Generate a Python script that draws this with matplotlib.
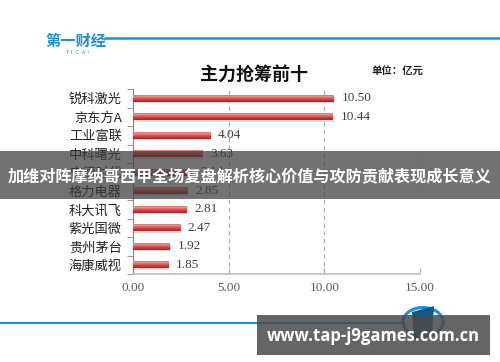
import matplotlib
matplotlib.use("Agg")
import matplotlib.pyplot as plt
import numpy as np
from matplotlib.patches import Rectangle, Circle, Polygon
from matplotlib.colors import LinearSegmentedColormap

categories = ["锐科激光", "京东方A", "工业富联", "中科曙光", "宁德时代",
              "格力电器", "科大讯飞", "紫光国微", "贵州茅台", "海康威视"]
values = [10.50, 10.44, 4.04, 3.63, 3.14, 2.85, 2.81, 2.47, 1.92, 1.85]
value_labels = ["10.50", "10.44", "4.04", "3.63", "3.14", "2.85", "2.81", "2.47", "1.92", "1.85"]
xticks = [0, 5, 10, 15]
xtick_labels = ["0.00", "5.00", "10.00", "15.00"]
title = "主力抢筹前十"
unit = "单位：亿元"
banner = "加维对阵摩纳哥西甲全场复盘解析核心价值与攻防贡献表现成长意义"
watermark = "www.tap-j9games.com.cn"

cjk = ["Noto Sans CJK SC", "DejaVu Sans"]
serif = ["Liberation Serif", "DejaVu Serif"]

W, H = 500, 362
fig = plt.figure(figsize=(W / 100, H / 100), dpi=100)
fig.patch.set_facecolor("white")

def fx(px):
    return px / W

def fy(py):
    return 1 - py / H

ax = fig.add_axes([fx(133), fy(274), fx(420) - fx(133), fy(89) - fy(274)])
n = len(categories)
y = np.arange(n)
bars = ax.barh(y, values, height=0.38, color="#d94040", zorder=3)

cmap = LinearSegmentedColormap.from_list(
    "bar", ["#b52a2a", "#f3a3a3", "#e35a5a", "#cf3a3a", "#9e1f1f"])
grad = np.linspace(0, 1, 64).reshape(-1, 1)
for b in bars:
    x0, y0 = b.get_x(), b.get_y()
    w, h = b.get_width(), b.get_height()
    ax.add_patch(Rectangle((x0 + 0.05, y0 + 0.08), w, h, facecolor="#bbbbbb",
                           edgecolor="none", alpha=0.5, zorder=2))
    im = ax.imshow(grad, cmap=cmap, aspect="auto",
                   extent=(x0, x0 + w, y0 + h, y0), zorder=4, interpolation="bicubic")
    im.set_clip_path(b)
ax.set_xlim(0, 15)
ax.set_ylim(n - 0.5, -0.5)

for yi, v, lab in zip(y, values, value_labels):
    ax.text(v + 0.4, yi, lab, va="center", ha="left", fontsize=9.5,
            family=serif, color="#404040", zorder=5)

ax.set_yticks(y)
ax.set_yticklabels(categories, family=cjk, fontsize=9.5, color="#222222")
ax.set_yticks(np.arange(-0.5, n, 1), minor=True)
ax.tick_params(axis="y", which="major", length=0, pad=8)
ax.tick_params(axis="y", which="minor", length=4, color="#888888", direction="out")
ax.set_xticks(xticks)
ax.set_xticklabels(xtick_labels, family=serif, fontsize=9.5, color="#595959")
ax.tick_params(axis="x", length=4, color="#aaaaaa", direction="in", pad=6)
for s in ["top", "right"]:
    ax.spines[s].set_visible(False)
ax.spines["left"].set_color("#888888")
ax.spines["bottom"].set_color("#bfbfbf")
ax.spines["bottom"].set_linewidth(1.2)
for xv in xticks[1:]:
    ax.axvline(xv, color="#aaaaaa", linestyle=(0, (4, 3)), linewidth=0.8, zorder=1)

# titles
fig.text(fx(254), fy(74), title, ha="center", va="center", family=cjk,
         fontsize=13, fontweight="bold", color="#111111")
fig.text(fx(372), fy(72), unit, ha="left", va="center", family=cjk,
         fontsize=7.5, fontweight="bold", color="#222222")

# top logo and line
fig.text(fx(45), fy(41), "第一财经", ha="left", va="center", family=cjk,
         fontsize=11, fontweight="bold", color="#1e90d8")
fig.text(fx(77), fy(53), "Y  I  C  A  I", ha="center", va="center",
         fontsize=3.5, color="#1e90d8")
fig.add_artist(plt.Line2D([fx(105), fx(500)], [fy(38), fy(38)], color="#1e90d8",
                          linewidth=1.8))

# bottom line and round logo
fig.add_artist(plt.Line2D([fx(0), fx(404)], [fy(323), fy(323)], color="#1e90d8",
                          linewidth=1.5))
circ = Circle((fx(423), fy(322)), 20 / W, transform=fig.transFigure,
              facecolor="white", edgecolor="#1e90d8", linewidth=2.2)
fig.add_artist(circ)
fig.add_artist(Polygon([(fx(412), fy(312)), (fx(434), fy(306)), (fx(432), fy(333)),
                        (fx(414), fy(340))], closed=True, transform=fig.transFigure,
                       facecolor="#0f5a8c", edgecolor="none"))

# banner
fig.add_artist(Rectangle((0, fy(199)), 1, fy(151) - fy(199), transform=fig.transFigure,
                         facecolor="#3c3c3c", alpha=0.72, edgecolor="none", zorder=10))
fig.text(0.5, fy(176), banner, ha="center", va="center", family=cjk,
         fontsize=11.6, fontweight="bold", color="white", zorder=11)

# watermark
fig.add_artist(Rectangle((fx(257), fy(355)), fx(490) - fx(257), fy(315) - fy(355),
                         transform=fig.transFigure, facecolor="#4a4a4a", alpha=0.85,
                         edgecolor="none", zorder=10))
fig.text(fx(373), fy(336), watermark, ha="center", va="center",
         family=["Open Sans", "DejaVu Sans"], fontsize=12, fontweight="bold",
         color="white", zorder=11)

fig.savefig("out.png", dpi=100)
